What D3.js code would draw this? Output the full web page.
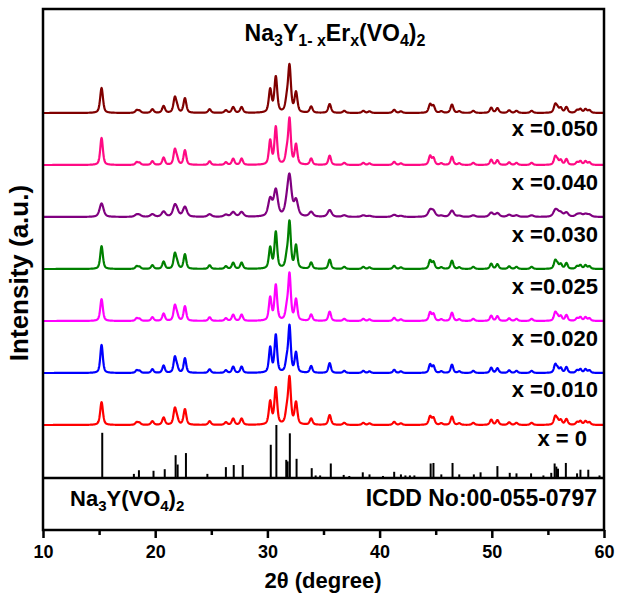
<!DOCTYPE html>
<html>
<head>
<meta charset="utf-8">
<script src="https://cdn.jsdelivr.net/npm/d3@7"></script>
<style>
  body { margin: 0; background: #fff; }
  text { font-family: "Liberation Sans", Arial, sans-serif; font-weight: bold; fill: #000; }
</style>
</head>
<body>
<svg id="chart" width="617" height="596"></svg>
<script>
// ---- data -------------------------------------------------------------
const xTicks = [10, 20, 30, 40, 50, 60];
const xMinorTicks = [15, 25, 35, 45, 55];

// stacked patterns, top to bottom
const sampleLabels = [null, "x =0.050", "x =0.040", "x =0.030", "x =0.025", "x =0.020", "x =0.010"];
const sampleColors = ["#800000", "#ff0a84", "#800080", "#008000", "#ff00ff", "#0000ff", "#ff0000"];
const sampleFwhm   = [0.30, 0.28, 0.42, 0.28, 0.28, 0.27, 0.29];

// reflection positions (2θ, degree) shared by all samples
const peakCentres = [15.22, 18.35, 18.6, 19.75, 20.75, 21.75, 21.95, 22.65, 24.85, 26.3,
                     26.95, 27.7, 30.25, 30.75, 31.72, 31.97, 32.55, 33.9, 35.55, 36.85,
                     38.55, 39.1, 41.3, 41.9, 44.5, 44.8, 45.5, 46.45, 47.1, 48.35,
                     49.95, 50.5, 51.55, 52.2, 53.55, 55.65, 55.85, 56.15, 56.65, 57.6,
                     57.9, 58.35, 58.7];

// peak heights per sample (a.u.), same order as peakCentres
const heightsTop  = [48, 5, 4, 7, 13, 28, 9, 28, 7, 5, 11, 11, 44, 68, 20, 88, 38, 12, 17, 4, 4, 3, 6, 3, 16, 13, 3, 16, 3, 4, 10, 9, 5, 4, 4, 15, 8, 9, 11, 5, 7, 7, 5];
const heights050 = [52, 5, 4, 7, 14, 28, 10, 28, 7, 5, 12, 12, 46, 72, 20, 86, 38, 12, 18, 4, 4, 3, 6, 3, 17, 13, 3, 16, 3, 4, 10, 9, 5, 4, 4, 15, 8, 9, 11, 5, 7, 7, 5];
const heights040 = [26, 4, 3, 5, 10, 20, 7, 19, 5, 4, 9, 9, 33, 50, 16, 74, 30, 9, 13, 3, 3, 2, 4, 2, 12, 10, 2, 12, 2, 3, 8, 7, 4, 3, 3, 11, 6, 7, 8, 4, 5, 5, 4];
const heights030 = [44, 5, 4, 7, 14, 28, 10, 28, 7, 5, 12, 12, 40, 70, 20, 88, 44, 12, 18, 4, 4, 3, 6, 3, 16, 13, 3, 16, 3, 4, 10, 9, 5, 4, 4, 15, 8, 9, 11, 5, 7, 7, 5];
const heights025 = [42, 5, 4, 7, 14, 28, 10, 28, 7, 5, 12, 12, 44, 68, 20, 88, 40, 12, 18, 4, 4, 3, 6, 3, 16, 13, 3, 16, 3, 4, 10, 9, 5, 4, 4, 15, 8, 9, 11, 5, 7, 7, 5];
const heights020 = [54, 5, 4, 7, 14, 29, 10, 28, 7, 5, 12, 12, 48, 72, 20, 88, 38, 13, 19, 4, 4, 3, 6, 3, 16, 13, 3, 16, 3, 4, 10, 9, 5, 4, 4, 15, 8, 9, 11, 5, 7, 7, 5];
const heights010 = [44, 5, 4, 7, 14, 30, 10, 30, 7, 5, 12, 12, 44, 70, 22, 88, 42, 12, 19, 4, 4, 3, 6, 3, 16, 13, 3, 16, 3, 4, 10, 9, 5, 4, 4, 15, 8, 9, 11, 5, 7, 7, 5];
const sampleHeights = [heightsTop, heights050, heights040, heights030, heights025, heights020, heights010];

// reference card Na3Y(VO4)2, ICDD 00-055-0797
const stickPos = [15.28, 18.1, 18.55, 19.85, 20.85, 21.82, 22.0, 22.74, 24.65, 26.3,
                  27.0, 27.8, 30.3, 30.8, 31.68, 31.8, 32.0, 32.6, 33.95, 34.3,
                  34.7, 35.65, 36.8, 37.3, 38.5, 39.1, 40.3, 41.3, 41.9, 42.3,
                  42.7, 43.1, 44.55, 44.8, 45.5, 46.5, 47.1, 48.4, 49.0, 50.5,
                  51.6, 52.2, 53.5, 54.6, 55.3, 55.6, 55.75, 55.9, 56.6, 57.6,
                  57.9, 58.6, 59.6];
const stickInt = [85, 6, 13, 12, 15, 42, 24, 46, 6, 19,
                  23, 23, 62, 100, 33, 30, 84, 35, 17, 3,
                  3, 26, 4, 2, 9, 5, 2, 10, 5, 3,
                  3, 3, 26, 27, 5, 27, 5, 5, 9, 21,
                  8, 7, 7, 3, 8, 26, 20, 16, 27, 7,
                  14, 14, 3];

// ---- layout -----------------------------------------------------------
const svg = d3.select("#chart");
const frame = { left: 43, right: 604, top: 9, bottom: 530, split: 478 };
const step = 100;   // vertical offset between stacked patterns (a.u.)

const x = d3.scaleLinear().domain([10, 60]).range([frame.left, frame.right]);
const y = d3.scaleLinear().domain([0, 900]).range([477, frame.top]);

// pseudo-Voigt profile of one reflection
function profile(t, c, h, w) {
  const u = (t - c) / w;
  const lor = 1 / (1 + 4 * u * u);
  const gau = Math.exp(-4 * Math.LN2 * u * u);
  return h * (0.55 * lor + 0.45 * gau);
}

const grid = d3.range(10, 60.0001, 0.02);
svg.append("clipPath").attr("id", "plotClip")
  .append("rect").attr("x", frame.left).attr("y", frame.top)
  .attr("width", frame.right - frame.left).attr("height", frame.split - frame.top);

const plot = svg.append("g").attr("clip-path", "url(#plotClip)");

sampleHeights.forEach((hs, i) => {
  const offset = (sampleHeights.length - i) * step;
  const pts = grid.map(t => {
    let s = 0;
    peakCentres.forEach((c, k) => { s += profile(t, c, hs[k], sampleFwhm[i]); });
    return [t, offset + s];
  });
  plot.append("path")
    .datum(pts)
    .attr("fill", "none")
    .attr("stroke", sampleColors[i])
    .attr("stroke-width", 2.2)
    .attr("stroke-linejoin", "round")
    .attr("d", d3.line().x(d => x(d[0])).y(d => y(d[1])));
});

// reference sticks standing on the panel divider
plot.append("g").selectAll("line")
  .data(stickPos.map((p, k) => [p, stickInt[k]]))
  .join("line")
  .attr("x1", d => x(d[0])).attr("x2", d => x(d[0]))
  .attr("y1", y(0)).attr("y2", d => y(d[1]))
  .attr("stroke", "#000").attr("stroke-width", 2);

// sample labels
const labelBase = [null, 136, 190, 242, 294, 346, 397];
sampleLabels.forEach((lab, i) => {
  if (!lab) return;
  svg.append("text").attr("x", 598).attr("y", labelBase[i])
    .attr("text-anchor", "end").attr("font-size", 22).text(lab);
});
svg.append("text").attr("x", 587).attr("y", 446)
  .attr("text-anchor", "end").attr("font-size", 22).text("x = 0");

// frame and divider
svg.append("rect")
  .attr("x", frame.left).attr("y", frame.top)
  .attr("width", frame.right - frame.left).attr("height", frame.bottom - frame.top)
  .attr("fill", "none").attr("stroke", "#000").attr("stroke-width", 2.5);
svg.append("line")
  .attr("x1", frame.left).attr("x2", frame.right)
  .attr("y1", frame.split).attr("y2", frame.split)
  .attr("stroke", "#000").attr("stroke-width", 2.5);

// x axis
const xAxis = svg.append("g").attr("transform", `translate(0,${frame.bottom})`)
  .call(d3.axisBottom(x).tickValues(xTicks).tickSize(8).tickFormat(d3.format("d")));
xAxis.select(".domain").remove();
xAxis.selectAll(".tick line").attr("stroke-width", 2.5);
xAxis.selectAll(".tick text").attr("font-size", 18).attr("dy", "0.71em")
  .attr("y", 15).attr("font-family", "Liberation Sans, Arial, sans-serif").attr("font-weight", "bold");
const xMinor = svg.append("g").attr("transform", `translate(0,${frame.bottom})`)
  .call(d3.axisBottom(x).tickValues(xMinorTicks).tickSize(5).tickFormat(""));
xMinor.select(".domain").remove();
xMinor.selectAll(".tick line").attr("stroke-width", 2.5);

// subscript helper
function richText(sel, parts, subSize) {
  parts.forEach(([txt, sub]) => {
    const t = sel.append("tspan").text(txt);
    if (sub) t.attr("font-size", subSize).attr("baseline-shift", "-30%");
  });
}

// title
const title = svg.append("text").attr("x", 335).attr("y", 41)
  .attr("text-anchor", "middle").attr("font-size", 23);
richText(title, [["Na"], ["3", 1], ["Y"], ["1- x", 1], ["Er"], ["x", 1], ["(VO"], ["4", 1], [")"], ["2", 1]], 16);

// reference panel labels
const refName = svg.append("text").attr("x", 70).attr("y", 506).attr("font-size", 22);
richText(refName, [["Na"], ["3", 1], ["Y(VO"], ["4", 1], [")"], ["2", 1]], 15);
svg.append("text").attr("x", 597).attr("y", 506).attr("text-anchor", "end")
  .attr("font-size", 23).text("ICDD No:00-055-0797");

// axis titles
svg.append("text").attr("x", 323).attr("y", 588).attr("text-anchor", "middle")
  .attr("font-size", 22).text("2θ (degree)");
svg.append("text").attr("transform", "translate(28,273) rotate(-90)")
  .attr("text-anchor", "middle").attr("font-size", 26).text("Intensity (a.u.)");
</script>
</body>
</html>
